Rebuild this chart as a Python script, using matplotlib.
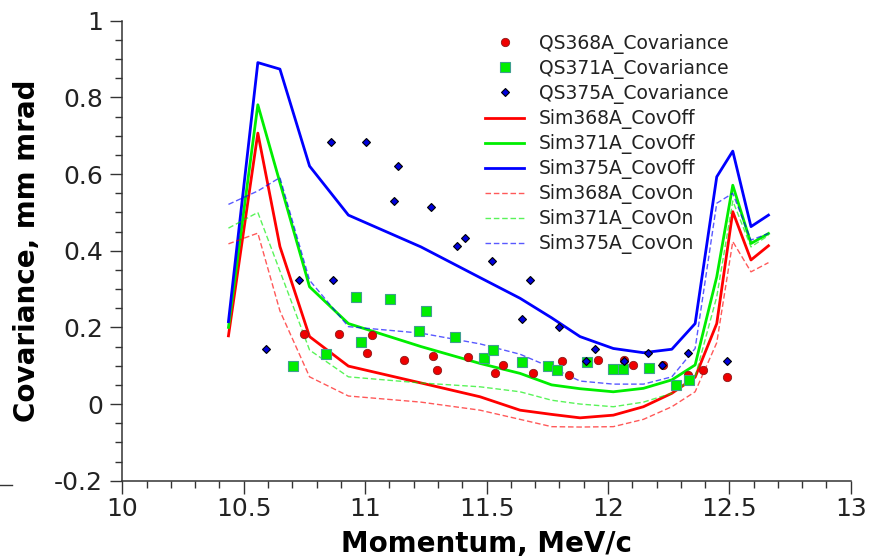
import numpy as np
import matplotlib
matplotlib.use("Agg")
import matplotlib.pyplot as plt
from matplotlib.ticker import MultipleLocator, FuncFormatter

# ====================================================
# measured points
qs368_x = [10.748, 10.891, 11.028, 11.006, 11.160, 11.281, 11.295, 11.425, 11.535, 11.569,
	11.690, 11.810, 11.838, 11.958, 12.068, 12.105, 12.226, 12.331, 12.390, 12.489]
qs368_y = [0.184, 0.184, 0.180, 0.132, 0.115, 0.125, 0.090, 0.122, 0.080, 0.102,
	0.082, 0.112, 0.077, 0.115, 0.115, 0.101, 0.102, 0.077, 0.089, 0.070]

qs371_x = [10.702, 10.839, 10.961, 10.982, 11.103, 11.222, 11.249, 11.370, 11.490, 11.525,
	11.645, 11.755, 11.792, 11.913, 12.020, 12.061, 12.169, 12.279, 12.334]
qs371_y = [0.099, 0.130, 0.280, 0.162, 0.273, 0.190, 0.243, 0.174, 0.119, 0.141,
	0.110, 0.099, 0.090, 0.109, 0.091, 0.091, 0.093, 0.051, 0.064]

qs375_x = [10.591, 10.728, 10.860, 10.869, 11.002, 11.120, 11.137, 11.270, 11.377, 11.411,
	11.524, 11.645, 11.679, 11.799, 11.910, 11.947, 12.068, 12.166, 12.222, 12.331, 12.489]
qs375_y = [0.143, 0.323, 0.683, 0.323, 0.683, 0.530, 0.622, 0.513, 0.412, 0.434,
	0.373, 0.222, 0.323, 0.202, 0.112, 0.143, 0.112, 0.132, 0.102, 0.132, 0.112]

# simulation grid
sim_x = [10.437, 10.558, 10.649, 10.771, 10.931, 11.230, 11.473, 11.638, 11.768, 11.885,
	12.022, 12.146, 12.263, 12.359, 12.448, 12.514, 12.589, 12.661]

sim368_off = [0.178, 0.707, 0.411, 0.176, 0.099, 0.055, 0.019, -0.016, -0.027, -0.036,
	-0.029, -0.007, 0.028, 0.070, 0.210, 0.502, 0.376, 0.413]
sim371_off = [0.200, 0.781, 0.578, 0.306, 0.210, 0.150, 0.106, 0.080, 0.050, 0.040,
	0.032, 0.041, 0.063, 0.102, 0.332, 0.571, 0.419, 0.445]
sim375_off = [0.215, 0.891, 0.874, 0.621, 0.493, 0.410, 0.330, 0.276, 0.225, 0.176,
	0.145, 0.134, 0.143, 0.210, 0.593, 0.660, 0.463, 0.493]

sim368_on = [0.418, 0.446, 0.243, 0.071, 0.021, 0.005, -0.016, -0.040, -0.059, -0.060,
	-0.059, -0.040, -0.007, 0.032, 0.160, 0.424, 0.345, 0.369]
sim371_on = [0.459, 0.500, 0.347, 0.141, 0.071, 0.055, 0.045, 0.032, 0.010, 0.000,
	-0.007, 0.005, 0.028, 0.071, 0.280, 0.530, 0.410, 0.440]
sim375_on = [0.521, 0.556, 0.591, 0.323, 0.202, 0.185, 0.157, 0.130, 0.095, 0.060,
	0.052, 0.052, 0.071, 0.145, 0.524, 0.550, 0.428, 0.445]

# ====================================================
def main():
	fig = plt.figure(figsize=(8.77, 5.57), dpi=100)
	ax = fig.add_axes([0.1395, 0.137, 0.8306, 0.8256])

	# simulation lines
	ax.plot(sim_x, sim368_off, color='#ff0000', lw=2.0, label='Sim368A_CovOff', zorder=2)
	ax.plot(sim_x, sim371_off, color='#00ee00', lw=2.0, label='Sim371A_CovOff', zorder=2)
	ax.plot(sim_x, sim375_off, color='#0000ff', lw=2.0, label='Sim375A_CovOff', zorder=2)
	ax.plot(sim_x, sim368_on, color='#ff0000', lw=1.0, alpha=0.65, dashes=(4, 2),
		label='Sim368A_CovOn', zorder=2)
	ax.plot(sim_x, sim371_on, color='#00ee00', lw=1.0, alpha=0.65, dashes=(4, 2),
		label='Sim371A_CovOn', zorder=2)
	ax.plot(sim_x, sim375_on, color='#0000ff', lw=1.0, alpha=0.65, dashes=(4, 2),
		label='Sim375A_CovOn', zorder=2)

	# measured points
	ax.plot(qs368_x, qs368_y, ls='none', marker='o', ms=6, mfc='#ee0000', mec='#8b1a1a',
		mew=0.6, label='QS368A_Covariance', zorder=3)
	ax.plot(qs371_x, qs371_y, ls='none', marker='s', ms=7, mfc='#00ee00', mec='#3f9f8f',
		mew=0.8, label='QS371A_Covariance', zorder=3)
	ax.plot(qs375_x, qs375_y, ls='none', marker='D', ms=4.5, mfc='#0000dd', mec='#000000',
		mew=0.8, label='QS375A_Covariance', zorder=3)

	ax.set_xlim(10, 13)
	ax.set_ylim(-0.2, 1)
	ax.xaxis.set_major_locator(MultipleLocator(0.5))
	ax.xaxis.set_minor_locator(MultipleLocator(0.1))
	ax.yaxis.set_major_locator(MultipleLocator(0.2))
	ax.yaxis.set_minor_locator(MultipleLocator(0.05))
	fmt = FuncFormatter(lambda v, p: ('%g' % round(v, 3)).replace('\u2212', '-'))
	ax.xaxis.set_major_formatter(fmt)
	ax.yaxis.set_major_formatter(fmt)

	for s in ['top', 'right']:
		ax.spines[s].set_visible(False)
	for s in ['left', 'bottom']:
		ax.spines[s].set_color('#333333')
		ax.spines[s].set_linewidth(1.1)

	ax.tick_params(which='major', direction='out', length=9, width=1.0, color='#333333',
		labelsize=18, labelcolor='#222222')
	ax.tick_params(axis='x', which='major', pad=3)
	ax.tick_params(axis='y', which='major', pad=5)
	ax.tick_params(which='minor', direction='out', length=5, width=1.0, color='#333333')

	ax.set_xlabel('Momentum, MeV/c', fontsize=20, fontweight='bold', labelpad=6)
	ax.set_ylabel('Covariance, mm mrad', fontsize=20, fontweight='bold', labelpad=9)

	handles, labels = ax.get_legend_handles_labels()
	order = [6, 7, 8, 0, 1, 2, 3, 4, 5]
	leg = ax.legend([handles[i] for i in order], [labels[i] for i in order],
		loc='upper left', bbox_to_anchor=(468 / 877, 1 - 17 / 557),
		bbox_transform=fig.transFigure, frameon=False, fontsize=13.5,
		labelspacing=0.27, handlelength=2.1, handletextpad=0.8, borderpad=0.4)
	for t in leg.get_texts():
		t.set_color('#222222')

	# small stray tick at the left edge of the original picture
	fig.add_artist(plt.Line2D([0, 12 / 877], [1 - 485 / 557, 1 - 485 / 557],
		transform=fig.transFigure, color='#333333', lw=1.0))

	fig.savefig('out.png', dpi=100)

# ====================================================
if __name__ == "__main__":
	main()
